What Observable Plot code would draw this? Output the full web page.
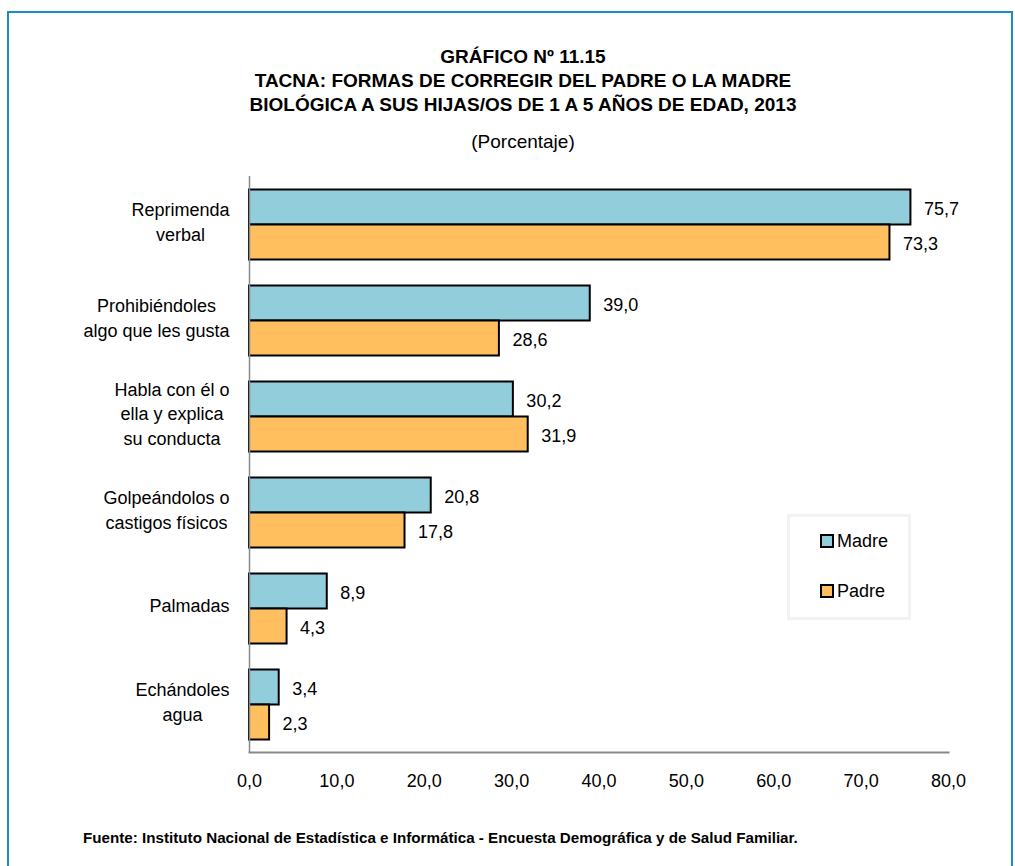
<!DOCTYPE html>
<html>
<head>
<meta charset="utf-8">
<script src="https://cdn.jsdelivr.net/npm/d3@7"></script>
<script src="https://cdn.jsdelivr.net/npm/@observablehq/plot@0.6"></script>
<style>
  body { margin: 0; background: #fff; }
  #page { position: relative; width: 1015px; height: 866px; overflow: hidden; background: #fff;
          font-family: "Liberation Sans", Arial, sans-serif; color: #000; }
  #frame { position: absolute; left: 7px; top: 11px; width: 1002px; height: 900px; border: 2px solid #1d8cc4; }
  #title { position: absolute; left: 8px; width: 1030px; top: 45px; text-align: center;
           font-weight: bold; font-size: 19px; line-height: 24px; }
  #subtitle { position: absolute; left: 8px; width: 1030px; top: 130px; text-align: center;
              font-size: 19px; line-height: 24px; }
  #chart { position: absolute; left: 0; top: 150px; }
  #legend { position: absolute; left: 787px; top: 514px; width: 118px; height: 100px;
            border: 3px solid #f2f2f2; font-size: 18px; }
  .item { position: absolute; left: 30px; height: 20px; line-height: 20px; }
  .sw { position: absolute; left: 0; top: 3px; width: 10px; height: 10px; border: 2px solid #000; }
  .lab { position: absolute; left: 17px; top: 0; white-space: nowrap; }
  #source { position: absolute; left: 83px; top: 829px; font-weight: bold; font-size: 15.2px; white-space: nowrap; }
</style>
</head>
<body>
<div id="page">
  <div id="frame"></div>
  <div id="title">GRÁFICO Nº 11.15<br>TACNA: FORMAS DE CORREGIR DEL PADRE O LA MADRE<br>BIOLÓGICA A SUS HIJAS/OS DE 1 A 5 AÑOS DE EDAD, 2013</div>
  <div id="subtitle">(Porcentaje)</div>
  <div id="chart"></div>
  <div id="legend"></div>
  <div id="source">Fuente: Instituto Nacional de Estadística e Informática - Encuesta Demográfica y de Salud Familiar.</div>
</div>
<script>
// ---- data ----
const categories = [
  "Reprimenda verbal",
  "Prohibiéndoles algo que les gusta",
  "Habla con él o ella y explica su conducta",
  "Golpeándolos o castigos físicos",
  "Palmadas",
  "Echándoles agua"
];
const categoryLabels = [
  "Reprimenda\nverbal",
  "Prohibiéndoles\nalgo que les gusta",
  "Habla con él o\nella y explica\nsu conducta",
  "Golpeándolos o\ncastigos físicos",
  "Palmadas",
  "Echándoles\nagua"
];
const series = ["Madre", "Padre"];
const madre = [75.7, 39.0, 30.2, 20.8, 8.9, 3.4];
const padre = [73.3, 28.6, 31.9, 17.8, 4.3, 2.3];
const xTicks = [0, 10, 20, 30, 40, 50, 60, 70, 80];
const colors = ["#92cddc", "#ffbf5e"];

const fmt = v => v.toFixed(1).replace(".", ",");
const rows = [];
categories.forEach((c, i) => {
  rows.push({category: c, series: "Madre", value: madre[i]});
  rows.push({category: c, series: "Padre", value: padre[i]});
});

const FONT = '"Liberation Sans", Arial, sans-serif';
const fontSize = 18;
const ctx = document.createElement("canvas").getContext("2d");
ctx.font = `${fontSize}px ${FONT}`;
const labelMarks = categories.map((c, i) => {
  const lines = categoryLabels[i].split("\n");
  const w = Math.max(...lines.map(l => ctx.measureText(l).width));
  return Plot.text([c], {
    fy: d => d,
    text: () => categoryLabels[i],
    frameAnchor: "left",
    textAnchor: "middle",
    dx: -(20 + w / 2),
    dy: -4,
    lineHeight: 1.37,
    fontSize: fontSize,
    fill: "#000"
  });
});

const plot = Plot.plot({
  width: 1015,
  height: 642,
  marginTop: 25.5,
  marginBottom: 40.5,
  marginLeft: 249,
  marginRight: 67,
  style: {fontFamily: FONT, fontSize: fontSize + "px", background: "transparent", overflow: "visible"},
  x: {domain: [0, 80], axis: null},
  y: {domain: series, axis: null, paddingInner: 0, paddingOuter: 0.37},
  fy: {domain: categories, axis: null, padding: 0},
  color: {domain: series, range: colors},
  marks: [
    Plot.barX(rows, {fy: "category", y: "series", x: "value", fill: "series", stroke: "#000", strokeWidth: 2}),
    Plot.text(rows, {fy: "category", y: "series", x: "value", text: d => fmt(d.value),
      textAnchor: "start", dx: 13, dy: 1.5, fontSize: fontSize, fill: "#000"}),
    Plot.ruleX([0], {stroke: "#888", strokeWidth: 1.5}),
    Plot.frame({anchor: "bottom", facetAnchor: "bottom", stroke: "#888", strokeWidth: 2}),
    Plot.axisX({ticks: xTicks, tickSize: 0, tickPadding: 22, tickFormat: fmt, label: null,
      fontSize: fontSize, facetAnchor: "bottom", fill: "#000"}),
    ...labelMarks
  ]
});
document.getElementById("chart").appendChild(plot);

// legend
const legend = document.getElementById("legend");
series.forEach((s, i) => {
  const item = document.createElement("div");
  item.className = "item";
  item.style.top = (i === 0 ? 14 : 64) + "px";
  item.innerHTML = `<div class="sw" style="background:${colors[i]}"></div><span class="lab">${s}</span>`;
  legend.appendChild(item);
});
</script>
</body>
</html>
